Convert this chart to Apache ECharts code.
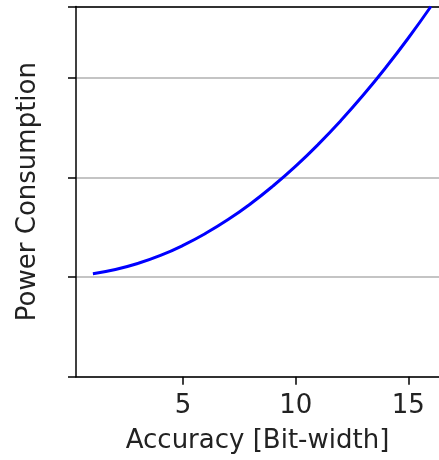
<!DOCTYPE html>
<html>
<head>
<meta charset="utf-8">
<script src="https://cdn.jsdelivr.net/npm/echarts@6/dist/echarts.min.js"></script>
<style>
  html, body { margin: 0; padding: 0; background: #fff; }
  #chart { width: 439px; height: 460px; }
</style>
</head>
<body>
<div id="chart"></div>
<script>
// Bit-width (accuracy) on x, relative power consumption on y
const bitWidth = [1, 2, 3, 4, 5, 6, 7, 8, 9, 10, 11, 12, 13, 14, 15, 16];
const power = [1.034, 1.076, 1.137, 1.217, 1.318, 1.438, 1.577, 1.736,
               1.915, 2.113, 2.331, 2.569, 2.826, 3.103, 3.399, 3.715];
const xTickValues = [5, 10, 15];
const xLabel = 'Accuracy [Bit-width]';
const yLabel = 'Power Consumption';

const font = 'DejaVu Sans';
const textColor = '#222';
const spine = { color: '#000', width: 1.5 };

const chart = echarts.init(document.getElementById('chart'));
chart.setOption({
  animation: false,
  grid: { left: 76, top: 6.5, right: 0, bottom: 83.3 },
  xAxis: [{
    type: 'value',
    position: 'bottom',
    min: 0.25, max: 16.36,
    name: xLabel,
    nameLocation: 'middle',
    nameGap: 52,
    nameTextStyle: { fontFamily: font, fontSize: 26, color: textColor },
    axisLine: { show: true, lineStyle: spine },
    axisTick: { show: true, length: 8, lineStyle: spine, customValues: xTickValues },
    axisLabel: { show: true, margin: 17, fontFamily: font, fontSize: 26, color: textColor, customValues: xTickValues },
    splitLine: { show: false }
  }, {
    // top spine
    type: 'value',
    position: 'top',
    min: 0.25, max: 16.36,
    axisLine: { show: true, lineStyle: spine },
    axisTick: { show: false },
    axisLabel: { show: false },
    splitLine: { show: false }
  }],
  yAxis: {
    type: 'value',
    min: 0, max: 3.715, interval: 1,
    name: yLabel,
    nameLocation: 'middle',
    nameGap: 35,
    nameRotate: 90,
    nameTextStyle: { fontFamily: font, fontSize: 26, color: textColor },
    axisLine: { show: true, lineStyle: spine },
    axisTick: { show: true, length: 8, lineStyle: spine },
    axisLabel: { show: false },
    splitLine: { show: true, lineStyle: { color: '#b0b0b0', width: 1.5 } }
  },
  series: [{
    type: 'line',
    xAxisIndex: 0,
    data: bitWidth.map((b, i) => [b, power[i]]),
    smooth: true,
    showSymbol: false,
    clip: true,
    lineStyle: { color: '#0000ff', width: 3 }
  }]
});
</script>
</body>
</html>
